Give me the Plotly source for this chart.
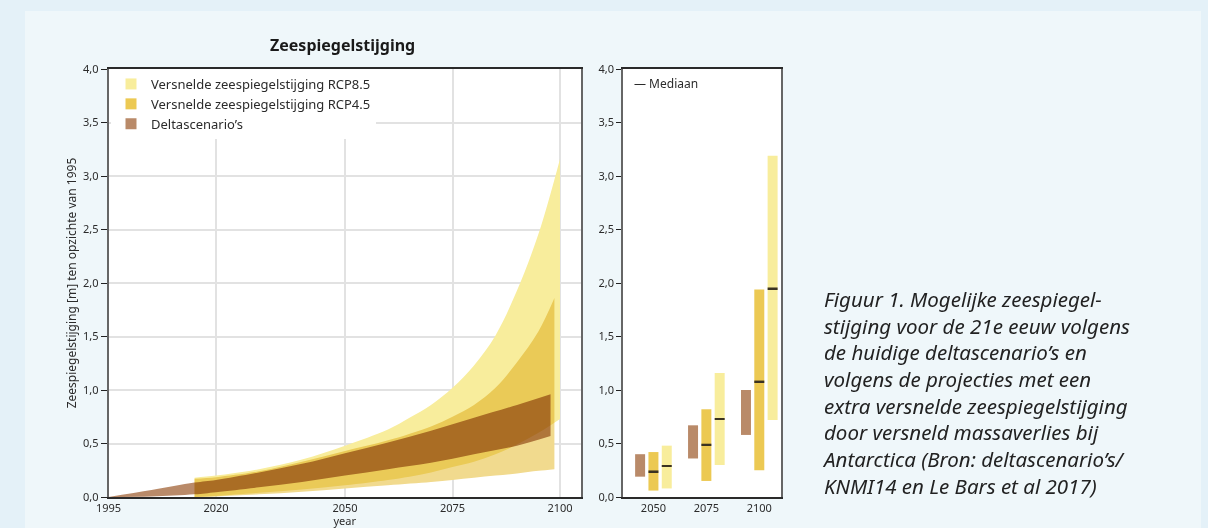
import numpy as np
import plotly.graph_objects as go

W, H = 1208, 528

# ---- time series bands (m sea-level rise relative to 1995) ----
delta_years = [1995, 2005, 2015, 2020, 2030, 2040, 2050, 2060, 2070, 2080, 2090, 2097.8]
delta_upper = [0.0, 0.065, 0.135, 0.16, 0.23, 0.31, 0.41, 0.51, 0.62, 0.74, 0.86, 0.96]
delta_lower = [0.0, 0.005, 0.025, 0.045, 0.09, 0.14, 0.20, 0.26, 0.32, 0.40, 0.48, 0.57]

rcp45_years = [2015, 2020, 2030, 2040, 2050, 2060, 2070, 2075, 2080, 2085, 2090, 2095, 2098.7]
rcp45_upper = [0.17, 0.185, 0.24, 0.33, 0.43, 0.53, 0.66, 0.75, 0.86, 1.02, 1.26, 1.55, 1.86]
rcp45_lower = [0.0, 0.005, 0.025, 0.05, 0.08, 0.11, 0.14, 0.16, 0.18, 0.20, 0.22, 0.245, 0.26]

rcp85_years = [2015, 2020, 2030, 2040, 2050, 2060, 2065, 2070, 2075, 2080, 2085, 2090, 2095, 2100]
rcp85_upper = [0.18, 0.20, 0.26, 0.35, 0.48, 0.63, 0.74, 0.86, 1.02, 1.23, 1.51, 1.93, 2.46, 3.16]
rcp85_lower = [0.0, 0.01, 0.04, 0.07, 0.11, 0.16, 0.19, 0.23, 0.28, 0.33, 0.40, 0.49, 0.60, 0.73]

# ---- ranges per horizon (right panel) ----
horizons = ["2050", "2075", "2100"]
delta_lo = [0.19, 0.36, 0.58]
delta_hi = [0.40, 0.67, 1.00]
rcp45_lo = [0.06, 0.15, 0.25]
rcp45_hi = [0.42, 0.82, 1.94]
rcp45_med = [0.24, 0.49, 1.08]
rcp85_lo = [0.08, 0.30, 0.72]
rcp85_hi = [0.48, 1.16, 3.19]
rcp85_med = [0.29, 0.73, 1.95]

year_ticks = [1995, 2020, 2050, 2075, 2100]

names = ["Versnelde zeespiegelstijging RCP8.5",
         "Versnelde zeespiegelstijging RCP4.5",
         "Deltascenario\u2019s"]

C85 = "#f8ed9c"
C45_BAND = "#f1da8e"
C45 = "#ecc953"
CDELTA = "#b98a69"
FONT = "Noto Sans"
TXT = "#2b2b2b"
OUTER = "#e4f1f8"
INNER = "#eff7fa"

fig = go.Figure()


def band(years, lower, upper, color):
    fig.add_trace(go.Scatter(x=years, y=lower, mode="lines", line=dict(width=0, shape="spline"),
                             showlegend=False, hoverinfo="skip", xaxis="x", yaxis="y"))
    fig.add_trace(go.Scatter(x=years, y=upper, mode="lines", line=dict(width=0, shape="spline"),
                             fill="tonexty", fillcolor=color, showlegend=False, hoverinfo="skip",
                             xaxis="x", yaxis="y"))


band(rcp85_years, rcp85_lower, rcp85_upper, C85)
band(rcp45_years, rcp45_lower, rcp45_upper, C45_BAND)
band(delta_years, delta_lower, delta_upper, CDELTA)

# legend entries
for nm, col in zip(names, [C85, C45, CDELTA]):
    fig.add_trace(go.Scatter(x=[None], y=[None], mode="markers", name=nm,
                             marker=dict(symbol="square", size=11, color=col),
                             xaxis="x", yaxis="y"))

# floating bars, right panel
lo_d, hi_d = np.array(delta_lo), np.array(delta_hi)
lo_45, hi_45 = np.array(rcp45_lo), np.array(rcp45_hi)
lo_85, hi_85 = np.array(rcp85_lo), np.array(rcp85_hi)
for grp, lo, hi, col in [("d", lo_d, hi_d, CDELTA), ("r45", lo_45, hi_45, C45), ("r85", lo_85, hi_85, C85)]:
    fig.add_trace(go.Bar(x=horizons, y=hi - lo, base=lo, offsetgroup=grp,
                         marker=dict(color=col, line=dict(width=0)),
                         showlegend=False, hoverinfo="skip", xaxis="x2", yaxis="y2"))

# median ticks
mh = 0.016
for grp, med in [("r45", rcp45_med), ("r85", rcp85_med)]:
    fig.add_trace(go.Bar(x=horizons, y=[mh] * len(med), base=np.array(med) - mh / 2, offsetgroup=grp,
                         marker=dict(color="#3a3222", line=dict(width=0)),
                         showlegend=False, hoverinfo="skip", xaxis="x2", yaxis="y2"))

y0px, y1px = 497, 69
ydom = [1 - y0px / H, 1 - y1px / H]
lx0, lx1 = 108.5, 581
rx0, rx1 = 623, 781

axis_font = dict(family=FONT, size=11, color=TXT)


def strip(x0, x1, y0, y1):
    return dict(type="rect", xref="paper", yref="paper", x0=x0 / W, x1=x1 / W,
                y0=1 - y1 / H, y1=1 - y0 / H, fillcolor=OUTER, line=dict(width=0), layer="below")


fig.update_layout(
    width=W, height=H,
    margin=dict(l=0, r=0, t=0, b=0, autoexpand=False),
    paper_bgcolor=INNER,
    plot_bgcolor="white",
    separators=",.",
    barmode="group", bargap=0.245, bargroupgap=0.25,
    font=dict(family=FONT, size=11, color=TXT),
    xaxis=dict(domain=[lx0 / W, lx1 / W], range=[1995, 1995 + (lx1 - lx0) / 4.3],
               tickvals=year_ticks, showgrid=True, gridcolor="#e2e2e2", gridwidth=1.5,
               zeroline=False, ticks="",
               showline=True, linecolor="#2a2a2a", linewidth=1.5, mirror=True,
               tickfont=axis_font, title=dict(text="year", font=axis_font, standoff=1),
               automargin=False, anchor="y"),
    yaxis=dict(domain=ydom, range=[0, 4], dtick=0.5, tickformat=".1f",
               showgrid=True, gridcolor="#e2e2e2", gridwidth=1.5, zeroline=False,
               ticks="outside", ticklen=6, tickcolor="#222",
               showline=True, linecolor="#666", linewidth=1.5, mirror=True,
               tickfont=axis_font,
               title=dict(text="Zeespiegelstijging [m] ten opzichte van 1995",
                          font=dict(family=FONT, size=12, color=TXT), standoff=4),
               automargin=False, anchor="x"),
    xaxis2=dict(domain=[rx0 / W, rx1 / W], type="category", range=[-0.575, 2.41],
                showgrid=False, zeroline=False, ticks="", showline=True, linecolor="#2a2a2a",
                linewidth=1.5, mirror=True, tickfont=axis_font, automargin=False, anchor="y2"),
    yaxis2=dict(domain=ydom, range=[0, 4], dtick=0.5, tickformat=".1f", showgrid=False,
                zeroline=False, ticks="outside", ticklen=5, tickcolor="#222",
                showline=True, linecolor="#666", linewidth=1.5, mirror=True,
                tickfont=axis_font, automargin=False, anchor="x2"),
    legend=dict(x=111 / W, y=1 - 69 / H, xanchor="left", yanchor="top",
                bgcolor="white", borderwidth=0, traceorder="normal",
                font=dict(family=FONT, size=13, color=TXT), itemclick=False),
    shapes=[strip(0, W, 0, 11), strip(0, 25, 0, H), strip(1201, W, 0, H)],
    annotations=[
        dict(text="<b>Zeespiegelstijging</b>", xref="paper", yref="paper", x=342 / W, y=1 - 45 / H,
             xanchor="center", yanchor="middle", showarrow=False,
             font=dict(family=FONT, size=16, color="#1a1a1a")),
        dict(text="\u2014 Mediaan", xref="paper", yref="paper", x=632 / W, y=1 - 83 / H,
             xanchor="left", yanchor="middle", showarrow=False,
             font=dict(family=FONT, size=12, color=TXT)),
        dict(text=("Figuur 1. Mogelijke zeespiegel-<br>stijging voor de 21e eeuw volgens<br>"
                   "de huidige deltascenario\u2019s en<br>volgens de projecties met een<br>"
                   "extra versnelde zeespiegelstijging<br>door versneld massaverlies bij<br>"
                   "Antarctica (Bron: deltascenario\u2019s/<br>KNMI14 en Le Bars et al 2017)"),
             xref="paper", yref="paper", x=820 / W, y=1 - 283 / H, xanchor="left", yanchor="top",
             align="left", showarrow=False,
             font=dict(family=FONT, size=20.5, color="#222", style="italic")),
    ],
)

# overlapping bands combine multiplicatively
blend_js = ("document.querySelectorAll('.scatterlayer .fills path').forEach(function(p){"
            "p.style.mixBlendMode='multiply';});")

fig.write_html("out.html", post_script=blend_js, config={"displayModeBar": False})
